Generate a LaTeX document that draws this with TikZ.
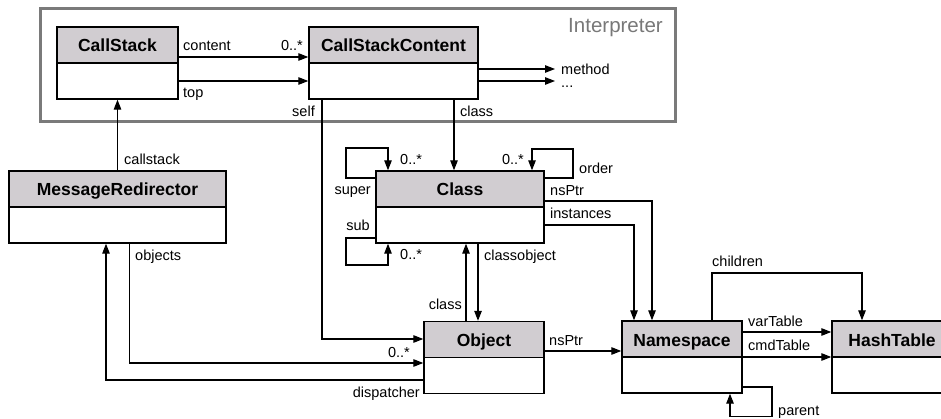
\documentclass[tikz,border=0pt]{standalone}
\usepackage{fontspec}
\setmainfont{Liberation Sans}
\usetikzlibrary{arrows.meta}
\definecolor{hdr}{RGB}{209,205,209}
\definecolor{frm}{RGB}{122,122,122}
\definecolor{frmtxt}{RGB}{120,120,120}
\newcommand{\ttlfnt}{\fontsize{17.5}{20}\selectfont\bfseries}
\newcommand{\lblfnt}{\fontsize{14.5}{17}\selectfont}
\begin{document}
\begin{tikzpicture}[x=1pt,y=-1pt,
  cls/.style={draw, line width=1.4pt, inner sep=0pt, minimum height=72pt,
    text height=25pt, text depth=47pt, font=\ttlfnt,
    path picture={
      \fill[hdr] (path picture bounding box.north west) rectangle (path picture bounding box.east);
      \draw[line width=1.4pt] (path picture bounding box.west) -- (path picture bounding box.east);
    }},
  lbl/.style={inner sep=0pt, font=\lblfnt},
  conn/.style={line width=1.2pt, -{Triangle[length=10pt,width=7.5pt]}},
  plain/.style={line width=1.2pt}
]
\useasboundingbox (0,0) rectangle (941,419);
\clip (0,0) rectangle (941,419);

% interpreter frame
\draw[frm, line width=3pt] (40,8.5) rectangle (675.5,122);
\node[anchor=base east, inner sep=0pt, font=\fontsize{20.5}{24}\selectfont, text=frmtxt] (interp) at (663,33) {Interpreter};

% classes
\node[cls, minimum width=121pt] (cs)  at (117.5,63) {CallStack};
\node[cls, minimum width=169pt] (csc) at (393.5,63) {CallStackContent};
\node[cls, minimum width=217pt] (mr)  at (117.5,207) {MessageRedirector};
\node[cls, minimum width=168pt] (cl)  at (460,207) {Class};
\node[cls, minimum width=120pt] (ob)  at (484,357.5) {Object};
\node[cls, minimum width=120pt] (ns)  at (682,357) {Namespace};
\node[cls, minimum width=120pt] (ht)  at (892,357) {HashTable};

% free ends
\coordinate (m1) at (555,69);
\coordinate (m2) at (555,81);

% CallStack -> CallStackContent
\draw[conn] (cs.east |- 0,57) -- (csc.west |- 0,57);
\draw[conn] (cs.east |- 0,81) -- (csc.west |- 0,81);
\node[lbl, anchor=base west] (lcontent) at (183,51) {content};
\node[lbl, anchor=base east] (lcontentm) at (303,51) {0..*};
\node[lbl, anchor=base west] (ltop) at (183,97.5) {top};

% CallStackContent -> method, ...
\draw[conn] (csc.east |- m1) -- (m1);
\draw[conn] (csc.east |- m2) -- (m2);
\node[lbl, anchor=base west] (lmethod) at (561,75) {method};
\node[lbl, anchor=base west] (ldots) at (561,88) {...};

% self
\draw[conn] (csc.south -| 322,0) -- (322,339) -- (ob.west |- 0,339);
\node[lbl, anchor=base east] (lself) at (315,117) {self};
% class
\draw[conn] (csc.south -| 454,0) -- (cl.north -| 454,0);
\node[lbl, anchor=base west] (lclass) at (460,117) {class};

% callstack
\draw[conn] (mr.north) -- (cs.south);
\node[lbl, anchor=base west] (lcallstack) at (124,165) {callstack};

% objects
\draw[conn] (mr.south -| 129.5,0) |- (ob.west |- 0,363);
\node[lbl, anchor=base west] (lobjects) at (135,261) {objects};
\node[lbl, anchor=base east] (lobjm) at (410,357) {0..*};
% dispatcher
\draw[conn] (ob.west |- 0,380) -| (mr.south -| 106,0);
\node[lbl, anchor=base east] (ldisp) at (420,397) {dispatcher};

% super loop
\draw[conn] (cl.west |- 0,178) -- (346,178) -- (346,148) -- (388,148) -- (cl.north -| 388,0);
\node[lbl, anchor=base west] (lsuperm) at (400,165) {0..*};
\node[lbl, anchor=base east] (lsuper) at (371,195) {super};
% order loop
\draw[conn] (cl.east |- 0,178) -- (573,178) -- (573,149) -- (532,149) -- (cl.north -| 532,0);
\node[lbl, anchor=base east] (lorderm) at (524,165) {0..*};
\node[lbl, anchor=base west] (lorder) at (579,174) {order};
% sub loop
\draw[conn] (cl.west |- 0,238) -- (346,238) -- (346,265) -- (388,265) -- (cl.south -| 388,0);
\node[lbl, anchor=base east] (lsub) at (370,231) {sub};
\node[lbl, anchor=base west] (lsubm) at (400,260) {0..*};

% Class -> Namespace
\draw[conn] (cl.east |- 0,201) -| (ns.north -| 652,0);
\node[lbl, anchor=base west] (lnsptr) at (550,196) {nsPtr};
\draw[conn] (cl.east |- 0,225) -| (ns.north -| 634,0);
\node[lbl, anchor=base west] (linst) at (550,219) {instances};

% Class <-> Object
\draw[conn] (cl.south -| 478,0) -- (ob.north -| 478,0);
\node[lbl, anchor=base west] (lclassobj) at (484,260.5) {classobject};
\draw[conn] (ob.north -| 466,0) -- (cl.south -| 466,0);
\node[lbl, anchor=base east] (lclass2) at (462,309) {class};

% Object -> Namespace
\draw[conn] (ob.east |- 0,351) -- (ns.west |- 0,351);
\node[lbl, anchor=base west] (lnsptr2) at (549,345.5) {nsPtr};

% Namespace -> HashTable
\draw[conn] (ns.east |- 0,332) -- (ht.west |- 0,332);
\node[lbl, anchor=base west] (lvar) at (748,326.5) {varTable};
\draw[conn] (ns.east |- 0,357) -- (ht.west |- 0,357);
\node[lbl, anchor=base west] (lcmd) at (748,350.5) {cmdTable};
\draw[conn] (ns.north -| 712,0) -- (712,273) -| (ht.north -| 862,0);
\node[lbl, anchor=base west] (lchildren) at (712,267) {children};

% parent loop
\draw[conn] (ns.east |- 0,387) -- (772,387) -- (772,416.5) -- (730,416.5) -- (ns.south -| 730,0);
\node[lbl, anchor=base west] (lparent) at (778,415) {parent};
\end{tikzpicture}
\end{document}
